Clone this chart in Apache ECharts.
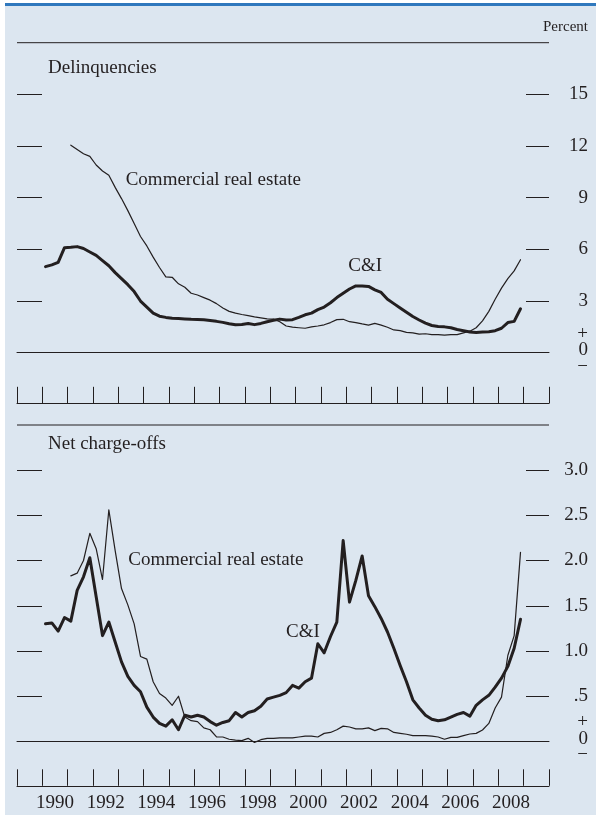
<!DOCTYPE html>
<html><head><meta charset="utf-8">
<script src="https://cdn.jsdelivr.net/npm/echarts@6/dist/echarts.min.js"></script>
<style>html,body{margin:0;padding:0;background:#fff}#c{width:596px;height:815px}</style>
</head><body><div id="c"></div>
<script>
// ---- data (quarterly, percent) ----
const axisYears = ['1989','1990','1991','1992','1993','1994','1995','1996','1997','1998','1999','2000','2001','2002','2003','2004','2005','2006','2007','2008','2009'];
const tickLabels = ['1990','1992','1994','1996','1998','2000','2002','2004','2006','2008'];
const delinqTicks = [0, 3, 6, 9, 12, 15];
const chargeTicks = [0, 0.5, 1.0, 1.5, 2.0, 2.5, 3.0];

const ciDelinqStart = 1990;
const ciDelinq = [
  5.0, 5.1, 5.25, 6.1,
  6.12, 6.16, 6.05, 5.85,
  5.65, 5.35, 5.05, 4.65,
  4.3, 3.95, 3.55, 3.0,
  2.65, 2.3, 2.12, 2.05,
  2.0, 1.98, 1.96, 1.94,
  1.93, 1.91, 1.87, 1.82,
  1.76, 1.68, 1.62, 1.64,
  1.7, 1.63, 1.7, 1.8,
  1.88, 1.95, 1.9, 1.92,
  2.05, 2.2, 2.3, 2.5,
  2.65, 2.9, 3.2, 3.45,
  3.7, 3.88, 3.88, 3.85,
  3.65, 3.5, 3.1, 2.85,
  2.6, 2.35, 2.1, 1.9,
  1.72, 1.58, 1.52, 1.5,
  1.45, 1.35, 1.28, 1.2,
  1.18, 1.2, 1.22, 1.28,
  1.42, 1.75, 1.82, 2.55
];
const creDelinqStart = 1991;
const creDelinq = [
  12.05, 11.8, 11.55, 11.4,
  10.9, 10.55, 10.3, 9.6,
  8.95, 8.25, 7.5, 6.75,
  6.2, 5.55, 4.95, 4.4,
  4.38, 4.0, 3.8, 3.45,
  3.35, 3.2, 3.05, 2.85,
  2.6, 2.4, 2.3, 2.22,
  2.15, 2.08, 2.02, 1.96,
  1.95, 1.8, 1.55, 1.48,
  1.45, 1.42, 1.5, 1.55,
  1.62, 1.75, 1.92, 1.94,
  1.8, 1.75, 1.67, 1.6,
  1.7, 1.6, 1.48, 1.32,
  1.28, 1.18, 1.15, 1.08,
  1.1, 1.05, 1.05, 1.02,
  1.05, 1.05, 1.15, 1.25,
  1.45, 1.85, 2.4, 3.1,
  3.75, 4.3, 4.75, 5.4
];
const ciChargeStart = 1990;
const ciCharge = [
  1.30, 1.31, 1.22, 1.37,
  1.33, 1.67, 1.82, 2.03,
  1.60, 1.17, 1.32, 1.10,
  0.88, 0.72, 0.62, 0.55,
  0.38, 0.27, 0.20, 0.17,
  0.24, 0.13, 0.29, 0.27,
  0.29, 0.27, 0.22, 0.18,
  0.21, 0.23, 0.32, 0.27,
  0.32, 0.34, 0.39, 0.47,
  0.49, 0.51, 0.54, 0.62,
  0.59, 0.66, 0.70, 1.08,
  0.98, 1.16, 1.32, 2.22,
  1.54, 1.78, 2.05, 1.61,
  1.49, 1.36, 1.21, 1.03,
  0.84, 0.66, 0.46, 0.37,
  0.29, 0.245, 0.23, 0.24,
  0.27, 0.30, 0.32, 0.28,
  0.40, 0.46, 0.51, 0.60,
  0.70, 0.83, 1.03, 1.35
];
const creChargeStart = 1991;
const creCharge = [
  1.83, 1.86, 2.0, 2.30,
  2.13, 1.79, 2.56, 2.11,
  1.69, 1.51, 1.30, 0.94,
  0.91, 0.66, 0.53, 0.48,
  0.40, 0.50, 0.27, 0.23,
  0.22, 0.15, 0.13, 0.05,
  0.05, 0.025, 0.015, 0.01,
  0.035, -0.01, 0.02, 0.035,
  0.035, 0.04, 0.04, 0.04,
  0.05, 0.06, 0.06, 0.05,
  0.09, 0.10, 0.13, 0.17,
  0.16, 0.14, 0.14, 0.15,
  0.12, 0.145, 0.14, 0.10,
  0.09, 0.08, 0.065, 0.065,
  0.065, 0.06, 0.05, 0.025,
  0.046, 0.046, 0.065, 0.083,
  0.09, 0.127, 0.20, 0.37,
  0.49, 0.95, 1.17, 2.09
];

// ---- chart ----
const FONT = "'Liberation Serif','Times New Roman',serif";
const INK = '#231f20';
const BG = '#dce6f0';
const xMin = Number(axisYears[0]), xMax = Number(axisYears[axisYears.length - 1]) + 1;
const toPts = (arr, start) => arr.map((v, i) => [start + (i + 0.5) / 4, v]);

const GL = 17, GW = 532;
const grids = [
  { left: GL, width: GW, top: 94.4, height: 258.3 },
  { left: GL, width: GW, top: 470, height: 271.5 }
];

function zeroAxis(g) {
  return { type: 'value', gridIndex: g, min: xMin, max: xMax, interval: 1, position: 'bottom',
    axisLine: { show: true, onZero: false, lineStyle: { color: INK, width: 1 } },
    axisTick: { show: false }, axisLabel: { show: false }, splitLine: { show: false } };
}
function stripAxis(g, offset, showLabels) {
  return { type: 'category', gridIndex: g, data: axisYears, boundaryGap: true, position: 'bottom', offset: offset,
    axisLine: { show: true, onZero: false, lineStyle: { color: INK, width: 1 } },
    axisTick: { show: true, inside: true, length: 16.5, interval: 0, lineStyle: { color: INK, width: 1 } },
    axisLabel: { show: showLabels, interval: (i, v) => tickLabels.indexOf(v) >= 0, margin: 8,
      fontFamily: FONT, fontSize: 19, color: INK },
    splitLine: { show: false } };
}
function leftY(g, ticks) {
  return { type: 'value', gridIndex: g, position: 'left', min: ticks[0], max: ticks[ticks.length - 1],
    interval: ticks[1] - ticks[0],
    axisLine: { show: false }, axisTick: { show: true, inside: true, length: 25, lineStyle: { color: INK, width: 1 } },
    axisLabel: { show: false }, splitLine: { show: false } };
}
function rightY(g, ticks, fmt) {
  return { type: 'value', gridIndex: g, position: 'right', min: ticks[0], max: ticks[ticks.length - 1],
    interval: ticks[1] - ticks[0],
    axisLine: { show: false }, axisTick: { show: true, inside: true, length: 23, lineStyle: { color: INK, width: 1 } },
    axisLabel: { show: true, align: 'right', margin: 39, fontFamily: FONT, fontSize: 19, color: INK,
      formatter: v => v === 0 ? '{z|+\n0\n−}' : fmt(v),
      rich: { z: { fontFamily: FONT, fontSize: 19, lineHeight: 16.5, color: INK, align: 'right', padding: [0, 0, 5, 0] } } },
    splitLine: { show: false } };
}
function lineSeries(data, xi, yi, w) {
  return { type: 'line', data: data, xAxisIndex: xi, yAxisIndex: yi, showSymbol: false, symbol: 'none',
    clip: false, animation: false, lineStyle: { color: INK, width: w, join: 'round', cap: 'round' }, z: w > 2 ? 3 : 2 };
}
function txt(x, y, s, size, align) {
  return { type: 'text', x: x, y: y, z: 10, style: { text: s, fontFamily: FONT, fontSize: size || 19, fill: INK,
    textAlign: align || 'left', textVerticalAlign: 'middle' } };
}

const option = {
  animation: false,
  backgroundColor: '#ffffff',
  grid: grids,
  xAxis: [zeroAxis(0), stripAxis(0, 50.6, false), zeroAxis(1), stripAxis(1, 44.3, true)],
  yAxis: [leftY(0, delinqTicks), rightY(0, delinqTicks, v => String(v)),
          leftY(1, chargeTicks), rightY(1, chargeTicks, v => v === 0.5 ? '.5' : v.toFixed(1))],
  series: [
    lineSeries(toPts(creDelinq, creDelinqStart), 0, 0, 1.2),
    lineSeries(toPts(ciDelinq, ciDelinqStart), 0, 0, 3),
    lineSeries(toPts(creCharge, creChargeStart), 2, 2, 1.2),
    lineSeries(toPts(ciCharge, ciChargeStart), 2, 2, 3)
  ],
  graphic: [
    { type: 'rect', z: -10, shape: { x: 5, y: 5, width: 591, height: 810 }, style: { fill: BG } },
    { type: 'rect', z: -9, shape: { x: 5, y: 3, width: 591, height: 3 }, style: { fill: '#2f78bd' } },
    { type: 'line', shape: { x1: 17, y1: 42.7, x2: 549, y2: 42.7 }, style: { stroke: INK, lineWidth: 1 } },
    { type: 'line', shape: { x1: 17, y1: 425, x2: 549, y2: 425 }, style: { stroke: INK, lineWidth: 1 } },
    txt(588, 27, 'Percent', 15, 'right'),
    txt(48, 68, 'Delinquencies'),
    txt(48, 444, 'Net charge-offs'),
    txt(125.7, 180, 'Commercial real estate'),
    txt(348.3, 266, 'C&I'),
    txt(128.3, 560, 'Commercial real estate'),
    txt(286, 632.5, 'C&I')
  ]
};
const chart = echarts.init(document.getElementById('c'), null, { renderer: 'canvas' });
chart.setOption(option);
</script>
</body></html>
